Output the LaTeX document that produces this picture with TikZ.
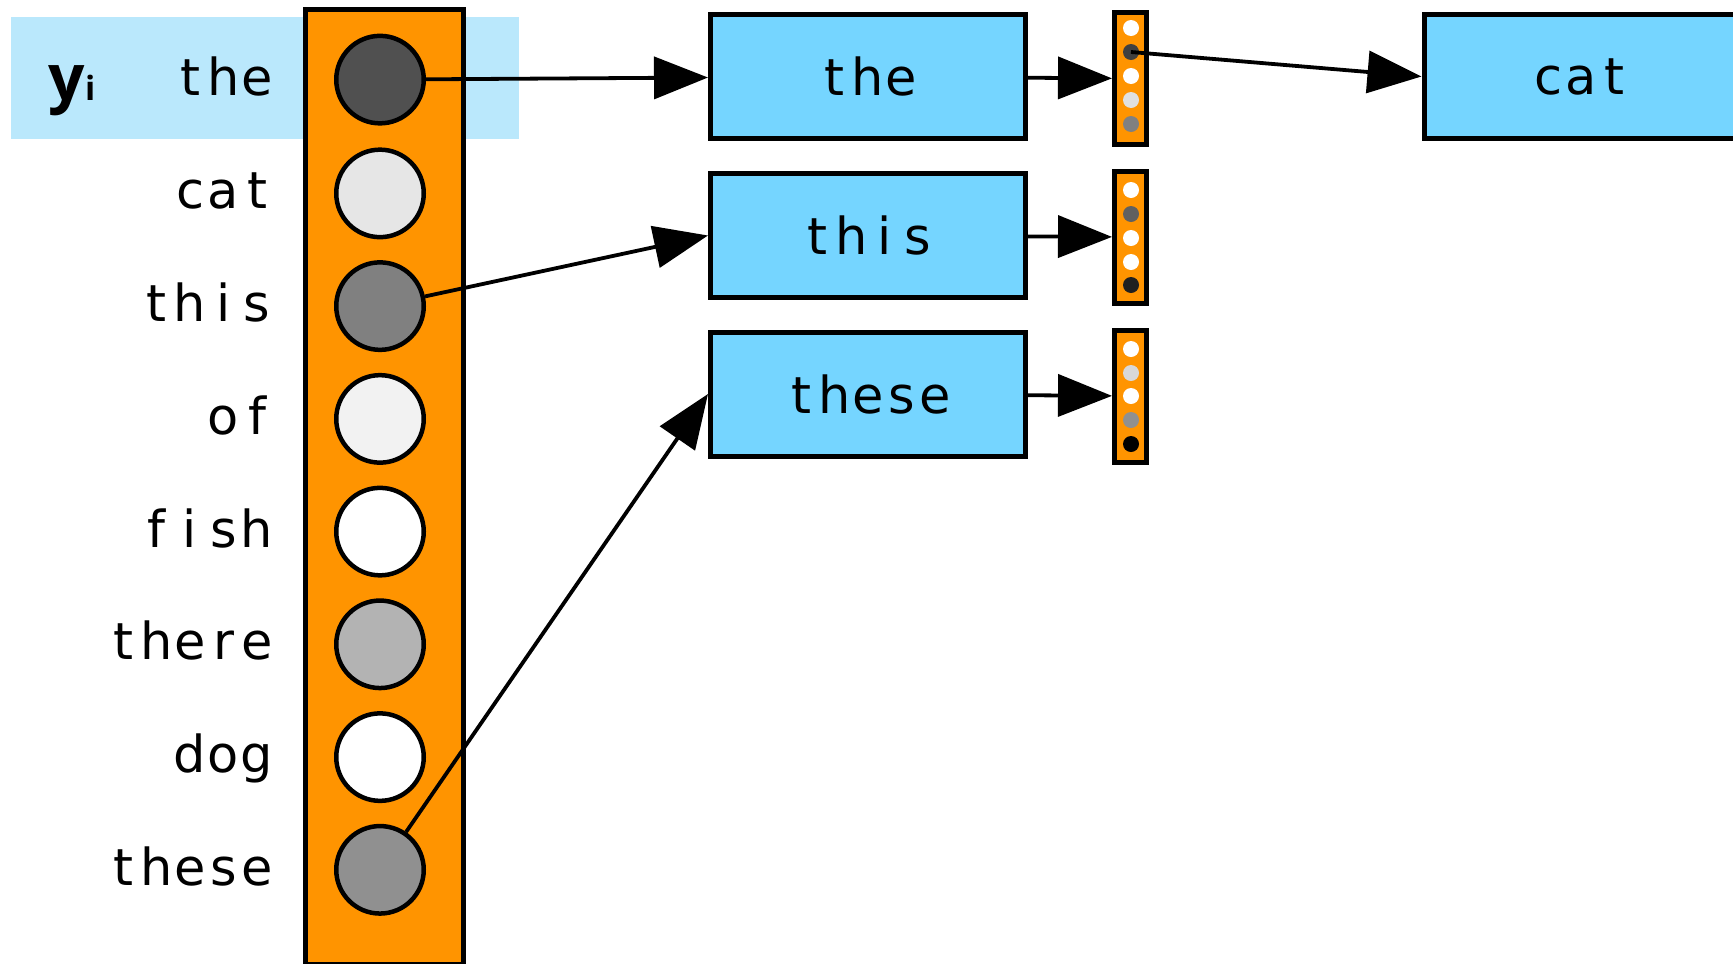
\documentclass[tikz,border=0pt]{standalone}
\usepackage{fontspec}
\newfontfamily\wordfont{DejaVu Sans}
\newfontfamily\labelfont{Open Sans}
\usetikzlibrary{arrows.meta}
\definecolor{vocab}{RGB}{255,148,0}
\definecolor{wordfill}{RGB}{117,213,255}
\definecolor{rowfill}{RGB}{186,232,252}
% each letter in a cell of its own, as in the slides
\newcommand\cellword[1]{\cellwordloop#1\relax}
\def\cellwordloop#1{\ifx\relax#1\else\makebox[3.35mm]{#1}\expandafter\cellwordloop\fi}

\begin{document}
\begin{tikzpicture}[x=0.1mm, y=-0.1mm, >={Triangle[length=5.4mm, width=4.2mm]},
    word/.style={anchor=base east, inner sep=0, font=\wordfont\fontsize{14.5}{16}\selectfont},
    prob/.style={circle, draw, line width=0.45mm, minimum size=8.75mm, inner sep=0},
    wordbox/.style={draw, fill=wordfill, line width=0.5mm, minimum width=31.5mm, minimum height=12.4mm, inner sep=0, font=\wordfont\fontsize{14.5}{16}\selectfont},
    outvec/.style={draw, fill=vocab, line width=0.5mm, minimum width=3.2mm, minimum height=13.2mm, inner sep=0},
    dot/.style={circle, inner sep=0, minimum size=1.6mm},
    link/.style={->, line width=0.38mm}]
    \useasboundingbox (0,0) rectangle (1733,963);
    \clip (0,0) rectangle (1733,963);

    \fill[rowfill] (11,17) rectangle (519,139);
    \node[anchor=base west, inner sep=0] (yi) at (48,100) {\labelfont\bfseries{\fontsize{18.2}{20}\selectfont y}{\fontsize{9.5}{10}\selectfont i}};

    \node[draw, fill=vocab, line width=0.47mm, minimum width=15.8mm, minimum height=95.5mm, inner sep=0] (col) at (384.5,487) {};

    \node[word] (t1) at (274.5,95.1) {\cellword{the}};
    \node[word] (t2) at (274.5,208.9) {\cellword{cat}};
    \node[word] (t3) at (274.5,321.6) {\cellword{this}};
    \node[word] (t4) at (274.5,434.4) {\cellword{of}};
    \node[word] (t5) at (274.5,547.1) {\cellword{fish}};
    \node[word] (t6) at (274.5,659.8) {\cellword{there}};
    \node[word] (t7) at (274.5,772.6) {\cellword{dog}};
    \node[word] (t8) at (274.5,885.3) {\cellword{these}};

    \node[prob, fill={rgb,255:red,80;green,80;blue,80}] (c1) at (380,79.6) {};
    \node[prob, fill={rgb,255:red,230;green,230;blue,230}] (c2) at (380,193.4) {};
    \node[prob, fill={rgb,255:red,128;green,128;blue,128}] (c3) at (380,306.1) {};
    \node[prob, fill={rgb,255:red,242;green,242;blue,242}] (c4) at (380,418.9) {};
    \node[prob, fill=white] (c5) at (380,531.6) {};
    \node[prob, fill={rgb,255:red,179;green,179;blue,179}] (c6) at (380,644.3) {};
    \node[prob, fill=white] (c7) at (380,757.1) {};
    \node[prob, fill={rgb,255:red,144;green,144;blue,144}] (c8) at (380,869.8) {};

    \node[wordbox] (w1) at (868,76.5) {\cellword{the}};
    \node[wordbox] (w2) at (868,235.5) {\cellword{this}};
    \node[wordbox] (w3) at (868,394) {\cellword{these}};
    \node[wordbox, anchor=west] (cat) at (1421.5,76.5) {\cellword{cat}};

    \node[outvec] (v1) at (1130.5,78.5) {};
    \node[outvec] (v2) at (1130.5,237) {};
    \node[outvec] (v3) at (1130.5,396) {};

    \node[dot, fill=white] (v1a) at (1131,28) {};
    \node[dot, fill={rgb,255:red,64;green,64;blue,64}] (v1b) at (1131,52) {};
    \node[dot, fill=white] (v1c) at (1131,76) {};
    \node[dot, fill={rgb,255:red,224;green,224;blue,224}] (v1d) at (1131,100) {};
    \node[dot, fill={rgb,255:red,128;green,128;blue,128}] (v1e) at (1131,124) {};

    \node[dot, fill=white] (v2a) at (1131,190) {};
    \node[dot, fill={rgb,255:red,96;green,96;blue,96}] (v2b) at (1131,214) {};
    \node[dot, fill=white] (v2c) at (1131,238) {};
    \node[dot, fill=white] (v2d) at (1131,262) {};
    \node[dot, fill={rgb,255:red,32;green,32;blue,32}] (v2e) at (1131,285) {};

    \node[dot, fill=white] (v3a) at (1131,349) {};
    \node[dot, fill={rgb,255:red,216;green,216;blue,216}] (v3b) at (1131,373) {};
    \node[dot, fill=white] (v3c) at (1131,396) {};
    \node[dot, fill={rgb,255:red,144;green,144;blue,144}] (v3d) at (1131,420) {};
    \node[dot, fill=black] (v3e) at (1131,444) {};

    \draw[link] (c1) -- (w1);
    \draw[link] (c3) -- (w2.west);
    \draw[link] (c8) -- (w3.west);

    \draw[link] (w1) -- (v1);
    \draw[link] (w2) -- (v2);
    \draw[link] (w3) -- (v3);

    \draw[link] (v1b.center) -- (cat.west);
\end{tikzpicture}
\end{document}
